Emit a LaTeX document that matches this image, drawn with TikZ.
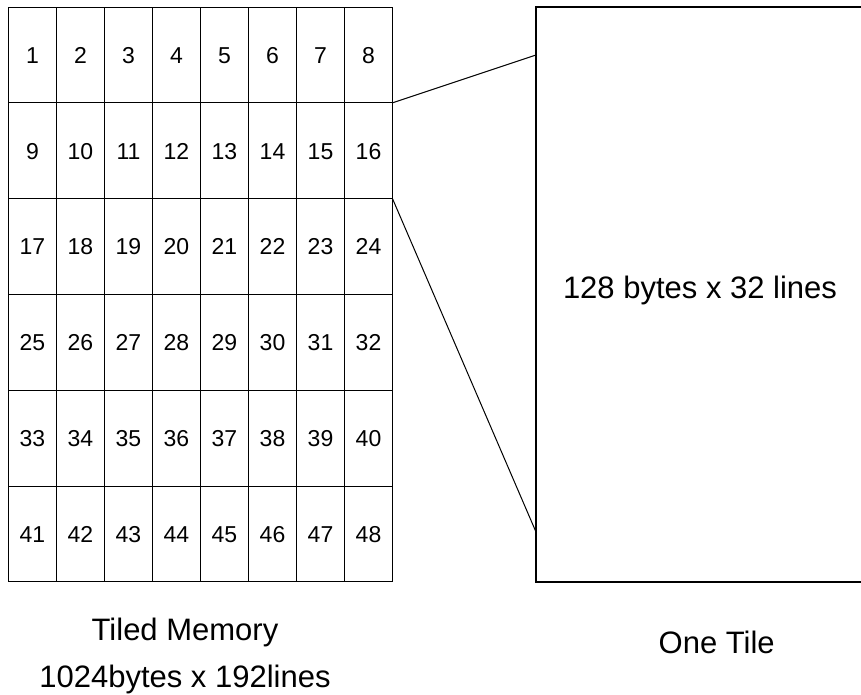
\documentclass[tikz,border=0pt]{standalone}
\usepackage{fontspec}
\setmainfont{Liberation Sans}
\begin{document}
\begin{tikzpicture}[x=1pt,y=-1pt,
  cell/.style={draw, line width=1pt, minimum width=48pt, minimum height=95.83pt, inner sep=0pt, outer sep=0pt, text height=16.5pt, text depth=0pt, font=\fontsize{23}{27}\selectfont},
  tilebox/.style={draw, line width=2.2pt, minimum width=327pt, minimum height=575pt, inner sep=0pt, outer sep=0pt},
  link/.style={line width=1pt},
  caption/.style={anchor=base, inner sep=0pt, font=\fontsize{31}{36}\selectfont}]
\useasboundingbox (0,0) rectangle (861,694);
\foreach \r in {0,...,5}{
  \foreach \c in {1,...,8}{
    \pgfmathtruncatemacro{\n}{\r*8+\c}
    \node[cell] (c\n) at ({8.5+48*(\c-0.5)}, {7+95.83*(\r+0.5)}) {\n};
  }
}
\node[tilebox] (tile) at (699.5,294.5) {};
\node[caption] (tiletext) at (700,298.3) {128 bytes x 32 lines};
\coordinate (t1) at (536,55);
\coordinate (t2) at (536,532);
\draw[link] (c8.south east) -- (t1);
\draw[link] (c16.south east) -- (t2);
\node[caption] (cap1) at (185,640) {Tiled Memory};
\node[caption] (cap2) at (185,687) {1024bytes x 192lines};
\node[caption] (cap3) at (716.7,653) {One Tile};
\end{tikzpicture}
\end{document}
